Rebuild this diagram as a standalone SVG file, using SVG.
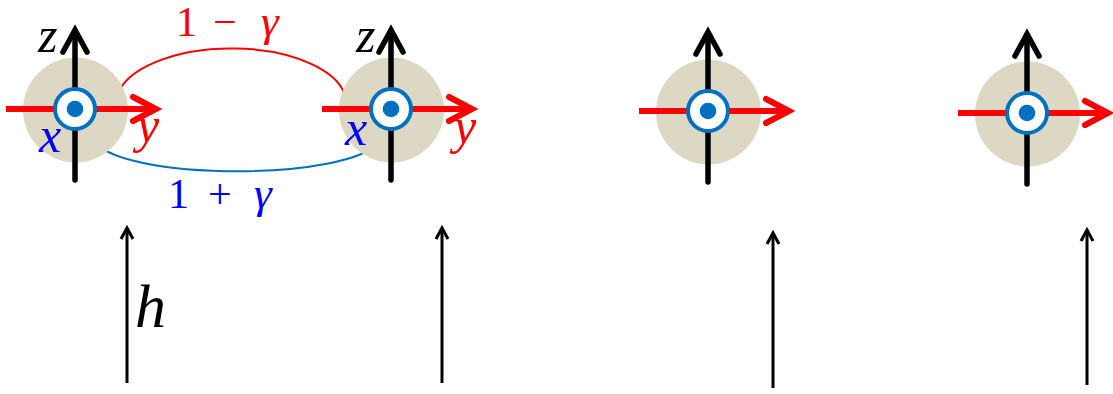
<svg xmlns="http://www.w3.org/2000/svg" xmlns:xlink="http://www.w3.org/1999/xlink" width="1113" height="394" viewBox="0 0 1113 394">
<style>
.disc{fill:#dcd8c3}
.zax{stroke:#000;stroke-width:5.5;fill:none;stroke-linecap:round}
.yax{stroke:#ff0000;stroke-width:6;fill:none;stroke-linecap:butt}
.zhead{stroke:#000;stroke-width:5.5;fill:none;stroke-linecap:round;stroke-linejoin:miter}
.yhead{stroke:#ff0000;stroke-width:6;fill:none;stroke-linecap:round;stroke-linejoin:miter}
.ring{fill:#fff;stroke:#0070c0;stroke-width:4}
.dot{fill:#0070c0}
.fld{stroke:#000;stroke-width:3;fill:none}
</style>
<defs>
<g id="site">
<circle class="disc" cx="0.5" cy="1" r="52.5"/>
<line class="zax" x1="0" y1="71" x2="0" y2="-78"/>
<polyline class="zhead" points="-12,-57 0,-79 12,-57"/>
<line class="yax" x1="-69" y1="0" x2="80" y2="0"/>
<polyline class="yhead" points="58,-12 81,0 58,12"/>
<circle class="ring" cx="0" cy="0" r="20"/>
<circle class="dot" cx="0" cy="0" r="8.3"/>
</g>
<g id="field">
<line class="fld" x1="0" y1="0" x2="0" y2="-154"/>
<polyline class="fld" points="-6,-144 0,-155 6,-144"/>
</g>
</defs>
<g id="connectors">
<path d="M117,97 A115,55 0 0 1 346,100" fill="none" stroke="#ff0000" stroke-width="2"/>
<path d="M96,137 A141,33 0 0 0 377,142" fill="none" stroke="#0070c0" stroke-width="2"/>
<text font-family="Liberation Serif" font-size="42" fill="#ff0000"><tspan x="176" y="36">1</tspan><tspan x="213" y="36">−</tspan><tspan x="261" y="36" font-style="italic" font-size="45">γ</tspan></text>
<text font-family="Liberation Serif" font-size="42" fill="#0000ff"><tspan x="168" y="208">1</tspan><tspan x="208" y="208">+</tspan><tspan x="254" y="208" font-style="italic" font-size="45">γ</tspan></text>
</g>
<g id="node1">
<use xlink:href="#site" href="#site" transform="translate(75,109)"/>
<text font-family="Liberation Serif" font-style="italic" font-size="50" fill="#000" x="38" y="52">z</text>
<text font-family="Liberation Serif" font-style="italic" font-size="50" fill="#0000ff" x="39" y="152">x</text>
<text font-family="Liberation Serif" font-style="italic" font-size="50" fill="#ff0000" x="137" y="142">y</text>
</g>
<g id="node2">
<use xlink:href="#site" href="#site" transform="translate(391,109)"/>
<text font-family="Liberation Serif" font-style="italic" font-size="50" fill="#000" x="356" y="52">z</text>
<text font-family="Liberation Serif" font-style="italic" font-size="50" fill="#0000ff" x="345" y="145">x</text>
<text font-family="Liberation Serif" font-style="italic" font-size="50" fill="#ff0000" x="454" y="143">y</text>
</g>
<g id="node3">
<use xlink:href="#site" href="#site" transform="translate(708,111)"/>
</g>
<g id="node4">
<use xlink:href="#site" href="#site" transform="translate(1027,113)"/>
</g>
<g id="field1">
<use xlink:href="#field" href="#field" transform="translate(127,383)"/>
<text font-family="Liberation Serif" font-style="italic" font-size="62" fill="#000" x="135" y="327">h</text>
</g>
<g id="field2"><use xlink:href="#field" href="#field" transform="translate(442,383)"/></g>
<g id="field3"><use xlink:href="#field" href="#field" transform="translate(773,388)"/></g>
<g id="field4"><use xlink:href="#field" href="#field" transform="translate(1087,385)"/></g>
</svg>
